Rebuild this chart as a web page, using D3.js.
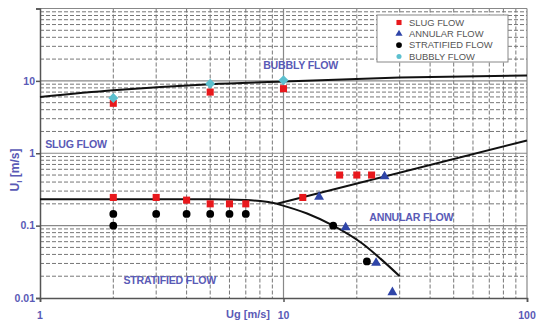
<!DOCTYPE html>
<html>
<head>
<meta charset="utf-8">
<script src="https://cdn.jsdelivr.net/npm/d3@7"></script>
<style>
  body { margin: 0; background: #fff; }
  text { font-family: "Liberation Sans", Arial, sans-serif; }
</style>
</head>
<body>
<div id="chart"></div>
<script>
// flow regime map data [Ug, Ul]
var slugFlow = [[2, 4.9], [5, 7.0], [10, 7.8],
                [2, 0.245], [3, 0.245], [4, 0.225], [5, 0.2], [6, 0.2], [7, 0.2],
                [12, 0.245], [17, 0.5], [20, 0.5], [23, 0.5]];
var annularFlow = [[14, 0.245], [26, 0.47], [18, 0.093], [24, 0.030], [28, 0.0118]];
var stratifiedFlow = [[2, 0.145], [2, 0.1], [3, 0.145], [4, 0.145], [5, 0.145],
                      [6, 0.145], [7, 0.145], [16, 0.1], [22, 0.032]];
var bubblyFlow = [[2, 5.8], [5, 9.1], [10, 10.2]];

// regime boundaries
var bubblyLine = [[1, 6.0], [2, 7.4], [5, 9.0], [10, 9.8], [30, 11.1], [100, 11.9]];
var stratLine = [[1, 0.232], [5, 0.231], [7, 0.226], [8.5, 0.213], [9.4, 0.2]];
var annularUpper = [[9.4, 0.2], [100, 1.5]];
var annularLower = [[9.4, 0.2], [12.5, 0.147], [16, 0.1], [21, 0.057], [25, 0.035], [30, 0.02]];

var xTicks = [1, 10, 100];
var yTicks = [0.01, 0.1, 1, 10];

var regionLabels = [
    {text: "BUBBLY FLOW", ug: 8.25, ul: 16.4},
    {text: "SLUG FLOW", ug: 1.05, ul: 1.33},
    {text: "STRATIFIED FLOW", ug: 2.2, ul: 0.0173},
    {text: "ANNULAR FLOW", ug: 22.5, ul: 0.132}
];

var legendItems = ["SLUG FLOW", "ANNULAR FLOW", "STRATIFIED FLOW", "BUBBLY FLOW"];

var WIDTH = 536, HEIGHT = 327;
var blue = "#5a5ab6";

var svg = d3.select("#chart").append("svg")
    .attr("width", WIDTH)
    .attr("height", HEIGHT);

var x = d3.scaleLog().domain([1, 100]).range([40, 527]);
var y = d3.scaleLog().domain([0.01, 100]).range([298, 8.5]);

// grid values 1..9 per decade
var minor = function (lo, hi) {
    var out = [];
    for (var d = lo; d < hi; d *= 10) {
        for (var k = 2; k <= 9; k++) out.push(d * k);
    }
    return out;
};

var grid = svg.append("g");
grid.selectAll(".vminor").data(minor(1, 100)).enter().append("line")
    .attr("x1", d => x(d)).attr("x2", d => x(d))
    .attr("y1", y(100)).attr("y2", y(0.01))
    .attr("stroke", "#777").attr("stroke-width", 1).attr("stroke-dasharray", "4,2");
grid.selectAll(".hminor").data(minor(0.01, 100)).enter().append("line")
    .attr("y1", d => y(d)).attr("y2", d => y(d))
    .attr("x1", x(1)).attr("x2", x(100))
    .attr("stroke", "#777").attr("stroke-width", 1).attr("stroke-dasharray", "4,2");
grid.selectAll(".vmajor").data([10, 100]).enter().append("line")
    .attr("x1", d => x(d)).attr("x2", d => x(d))
    .attr("y1", y(100)).attr("y2", y(0.01))
    .attr("stroke", "#888").attr("stroke-width", 1.2);
grid.selectAll(".hmajor").data([0.1, 1, 10, 100]).enter().append("line")
    .attr("y1", d => y(d)).attr("y2", d => y(d))
    .attr("x1", x(1)).attr("x2", x(100))
    .attr("stroke", "#888").attr("stroke-width", 1.2);

// axes
var xAxis = d3.axisBottom(x).tickValues(xTicks).tickFormat("").tickSize(4);
var yAxis = d3.axisLeft(y).tickValues(yTicks.concat([100])).tickFormat("").tickSize(4);
svg.append("g").attr("transform", "translate(0," + y(0.01) + ")").call(xAxis)
    .call(g => g.selectAll("path,line").attr("stroke", "#555").attr("stroke-width", 1.5));
svg.append("g").attr("transform", "translate(" + x(1) + ",0)").call(yAxis)
    .call(g => g.selectAll("path,line").attr("stroke", "#555").attr("stroke-width", 1.5));

svg.selectAll(".xlab").data(xTicks).enter().append("text")
    .attr("x", d => x(d)).attr("y", 319)
    .attr("text-anchor", "middle")
    .attr("font-size", 10.5).attr("font-weight", "bold").attr("fill", blue)
    .text(d => d);
svg.selectAll(".ylab").data(yTicks).enter().append("text")
    .attr("x", 35).attr("y", d => y(d)).attr("dy", "0.35em")
    .attr("text-anchor", "end")
    .attr("font-size", 10.5).attr("font-weight", "bold").attr("fill", blue)
    .text(d => d);

svg.append("text")
    .attr("x", 248).attr("y", 318)
    .attr("text-anchor", "middle")
    .attr("font-size", 11).attr("font-weight", "bold").attr("fill", blue)
    .text("Ug [m/s]");

var ylabel = svg.append("text")
    .attr("transform", "translate(19,170) rotate(-90)")
    .attr("text-anchor", "middle")
    .attr("font-size", 12).attr("font-weight", "bold").attr("fill", blue);
ylabel.append("tspan").text("U");
ylabel.append("tspan").attr("font-size", 8).attr("dy", 3).text("l");
ylabel.append("tspan").attr("dy", -3).text(" [m/s]");

// boundary lines
var line = d3.line()
    .x(d => x(d[0]))
    .y(d => y(d[1]))
    .curve(d3.curveMonotoneX);
[bubblyLine, stratLine, annularUpper, annularLower].forEach(function (pts) {
    svg.append("path").datum(pts)
        .attr("d", line)
        .attr("fill", "none")
        .attr("stroke", "#111")
        .attr("stroke-width", 2);
});

// region labels
svg.selectAll(".region").data(regionLabels).enter().append("text")
    .attr("x", d => x(d.ug)).attr("y", d => y(d.ul)).attr("dy", "0.35em")
    .attr("font-size", 10.6).attr("font-weight", "bold").attr("fill", blue)
    .attr("letter-spacing", -0.2)
    .text(d => d.text);

// markers
var sq = d3.symbol().type(d3.symbolSquare).size(50);
var tri = d3.symbol().type(d3.symbolTriangle).size(42);

svg.selectAll(".slug").data(slugFlow).enter().append("path")
    .attr("d", sq)
    .attr("transform", d => "translate(" + x(d[0]) + "," + y(d[1]) + ")")
    .attr("fill", "#e8181c");
svg.selectAll(".annular").data(annularFlow).enter().append("path")
    .attr("d", tri)
    .attr("transform", d => "translate(" + x(d[0]) + "," + (y(d[1]) - 0.5) + ")")
    .attr("fill", "#2f45a8");
svg.selectAll(".strat").data(stratifiedFlow).enter().append("circle")
    .attr("cx", d => x(d[0])).attr("cy", d => y(d[1])).attr("r", 3.9)
    .attr("fill", "#000");
svg.selectAll(".bubbly").data(bubblyFlow).enter().append("path")
    .attr("d", sq)
    .attr("transform", d => "translate(" + x(d[0]) + "," + y(d[1]) + ") rotate(45)")
    .attr("fill", "#5cc0cf");

// legend
var legend = svg.append("g").attr("transform", "translate(377,15)");
legend.append("rect")
    .attr("width", 131).attr("height", 47)
    .attr("fill", "#fff").attr("stroke", "#888");
var rows = legend.selectAll(".row").data(legendItems).enter().append("g")
    .attr("transform", (d, i) => "translate(22," + (7.5 + i * 11.3) + ")");
rows.append("path")
    .attr("d", (d, i) => i === 0 ? d3.symbol().type(d3.symbolSquare).size(26)()
                      : i === 1 ? d3.symbol().type(d3.symbolTriangle).size(22)()
                      : i === 2 ? d3.symbol().type(d3.symbolCircle).size(26)()
                      : d3.symbol().type(d3.symbolCircle).size(20)())
    .attr("fill", (d, i) => ["#e8181c", "#2f45a8", "#000", "#5cc0cf"][i]);
rows.append("text")
    .attr("x", 10).attr("dy", "0.35em")
    .attr("font-size", 9.4).attr("fill", "#555")
    .text(d => d);
</script>
</body>
</html>
